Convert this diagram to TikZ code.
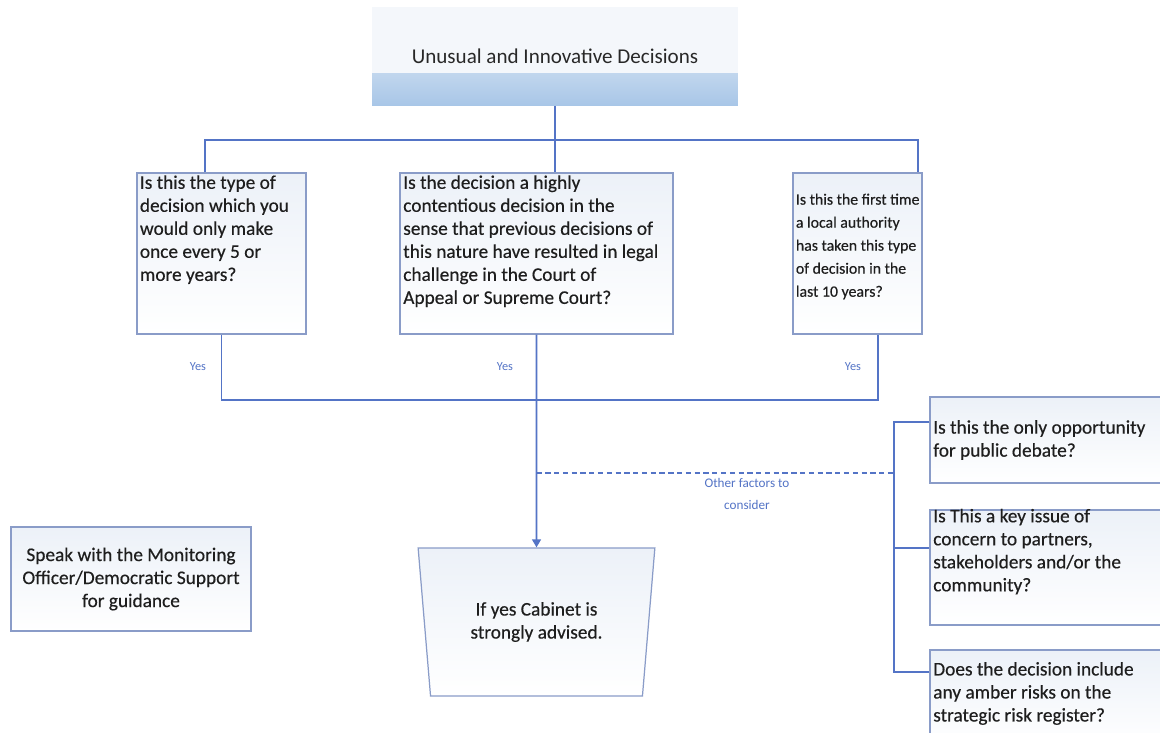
\documentclass[tikz,border=0pt]{standalone}
\usepackage{fontspec}
\setmainfont{Carlito}
\newfontfamily\boxfont{Carlito}[FakeBold=0.4]
\usetikzlibrary{arrows.meta,shapes.geometric,calc}

\definecolor{linkblue}{RGB}{84,116,198}
\definecolor{framegray}{RGB}{138,156,200}
\definecolor{paleblue}{RGB}{236,241,248}
\definecolor{titlebg}{RGB}{244,247,251}
\definecolor{bandblue}{RGB}{168,198,231}
\definecolor{inkgray}{RGB}{30,30,30}

\begin{document}
\begin{tikzpicture}[x=0.02cm,y=-0.02cm,
    conn/.style={draw=linkblue,line width=0.9pt},
    qbox/.style={draw=framegray,line width=0.7pt,top color=paleblue,bottom color=white,inner sep=0pt},
    qtext/.style={inner sep=0pt,align=left,text=inkgray,font=\boxfont\fontsize{11}{13.1}\selectfont},
    yeslbl/.style={text=linkblue,font=\fontsize{7}{8.5}\selectfont}]

    \useasboundingbox (0,0) rectangle (1160,733);
    \fill[white] (0,0) rectangle (1160,733);
    \clip (0,0) rectangle (1160,733);

    \coordinate (d1) at (205,140);
    \coordinate (d3) at (918,140);
    \coordinate (y1) at (222,400);
    \coordinate (y3) at (878,400);
    \coordinate (fork) at (894,473);
    \coordinate (ya) at (894,422);
    \coordinate (yb) at (894,548);
    \coordinate (yc) at (894,672);

    \node[fill=titlebg,minimum width=7.32cm,minimum height=1.98cm,inner sep=0pt,
        text={rgb,255:red,40;green,40;blue,40},font=\fontsize{12}{14}\selectfont,
        path picture={\shade[top color=titlebg,bottom color=bandblue]
            ($(path picture bounding box.south west)!0.32!(path picture bounding box.north west)$)
            rectangle (path picture bounding box.south east);}]
        (title) at (555,56) {Unusual and Innovative Decisions};

    \node[qbox,minimum width=3.38cm,minimum height=3.22cm] (q1) at (221.5,253.5) {};
    \node[qbox,minimum width=5.46cm,minimum height=3.22cm] (q2) at (536.5,253.5) {};
    \node[qbox,minimum width=2.58cm,minimum height=3.22cm] (q3) at (857.5,253.5) {};

    \node[qtext,anchor=north west] (q1txt) at ([xshift=1.8pt,yshift=-1.5pt]q1.north west)
        {Is this the type of\\decision which you\\would only make\\once every 5 or\\more years?};
    \node[qtext,anchor=north west] (q2txt) at ([xshift=2pt,yshift=-1.5pt]q2.north west)
        {Is the decision a highly\\contentious decision in the\\sense that previous decisions of\\this nature have resulted in legal\\challenge in the Court of\\Appeal or Supreme Court?};
    \node[qtext,anchor=west,font=\boxfont\fontsize{9}{13.1}\selectfont] (q3txt) at ([xshift=1.8pt,yshift=4pt]q3.west)
        {Is this the first time\\a local authority\\has taken this type\\of decision in the\\last 10 years?};

    \node[qbox,minimum width=4.8cm,minimum height=1.72cm] (qa) at (1050,440) {};
    \node[qbox,minimum width=4.8cm,minimum height=2.3cm] (qb) at (1050,567.5) {};
    \node[qbox,minimum width=4.8cm,minimum height=1.9cm] (qc) at (1050,697.5) {};

    \node[qtext,anchor=west] (qatxt) at ([xshift=2pt]qa.west)
        {Is this the only opportunity\\for public debate?};
    \node[qtext,anchor=north west] (qbtxt) at ([xshift=2pt,yshift=0.5pt]qb.north west)
        {Is This a key issue of\\concern to partners,\\stakeholders and/or the\\community?};
    \node[qtext,anchor=north west] (qctxt) at ([xshift=2pt,yshift=-7pt]qc.north west)
        {Does the decision include\\any amber risks on the\\strategic risk register?};

    \node[qbox,minimum width=4.8cm,minimum height=2.08cm,align=center,text=inkgray,
        font=\boxfont\fontsize{11}{13.1}\selectfont] (speak) at (131,579)
        {Speak with the Monitoring\\Officer/Democratic Support\\for guidance};

    \node[qbox,trapezium,shape border rotate=180,trapezium angle=79,trapezium stretches=true,
        minimum width=4.74cm,minimum height=2.96cm,align=center,text=inkgray,
        font=\boxfont\fontsize{11}{13.1}\selectfont] (cab) at (536.5,622)
        {If yes Cabinet is\\strongly advised.};

    \draw[conn] (title.south) -- (title.south |- q2.north);
    \draw[conn] (d1 |- q1.north) -- (d1) -- (d3) -- (d3 |- q3.north);
    \draw[conn] (q1.south) -- (q1.south |- y1) -- (y3) -- (y3 |- q3.south);
    \draw[conn,-{Triangle[width=5pt,length=4.5pt]}] (q2.south) -- (cab.north);
    \draw[conn,dashed,dash pattern=on 3pt off 2pt] (q2.south |- fork) -- (fork);
    \draw[conn] (qa.west |- ya) -- (ya) -- (yc) -- (qc.west |- yc);
    \draw[conn] (yb) -- (qb.west |- yb);

    \node[yeslbl] (yes1) at (198,367) {Yes};
    \node[yeslbl] (yes2) at (505,367) {Yes};
    \node[yeslbl] (yes3) at (853,367) {Yes};
    \node[yeslbl,align=center,font=\fontsize{7.5}{13}\selectfont] (other) at (747,494) {Other factors to\\consider};
\end{tikzpicture}
\end{document}
